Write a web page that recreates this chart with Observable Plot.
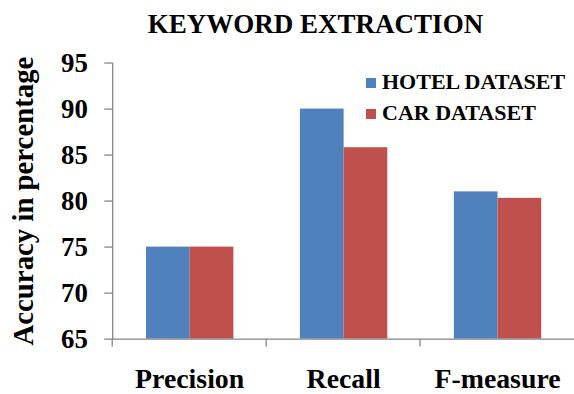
<!DOCTYPE html>
<html><head><meta charset="utf-8">
<script src="https://cdn.jsdelivr.net/npm/d3@7"></script>
<script src="https://cdn.jsdelivr.net/npm/@observablehq/plot@0.6"></script>
<style>
html,body{margin:0;padding:0;background:#fff;overflow:hidden}
#wrap{position:relative;width:574px;height:394px;overflow:hidden;font-family:"Liberation Serif","Times New Roman",serif;font-weight:bold;color:#000}
#title{position:absolute;left:0;width:631px;top:11px;text-align:center;font-size:27px;line-height:27px;white-space:nowrap}
.lg{position:absolute;left:382px;font-size:22px;line-height:22px;white-space:nowrap}
.sw{position:absolute;left:366px;width:10px;height:10px}
#chart{position:absolute;left:0;top:0}
</style></head>
<body>
<div id="wrap">
  <div id="chart"></div>
  <div id="title"></div>
  <div id="legend"></div>
</div>
<script>
const titleText = "KEYWORD EXTRACTION";
const yLabel = "Accuracy in percentage";
const categories = ["Precision", "Recall", "F-measure"];
const series = ["HOTEL DATASET", "CAR DATASET"];
const hotel = [75, 90, 81];
const car = [75, 85.8, 80.3];
const yTicks = [65, 70, 75, 80, 85, 90, 95];
const colors = ["#4F81BD", "#C0504D"];
const axisGray = "#868686";

const data = categories.flatMap((c, i) => [
  {category: c, series: series[0], value: hotel[i]},
  {category: c, series: series[1], value: car[i]}
]);

document.getElementById("title").textContent = titleText;

const legend = document.getElementById("legend");
const legendTops = [71, 102];
series.forEach((s, i) => {
  const sw = document.createElement("span");
  sw.className = "sw";
  sw.style.background = colors[i];
  sw.style.top = (legendTops[i] + 7) + "px";
  legend.appendChild(sw);
  const t = document.createElement("span");
  t.className = "lg";
  t.style.top = legendTops[i] + "px";
  t.textContent = s;
  legend.appendChild(t);
});

const chart = Plot.plot({
  width: 578,
  height: 394,
  marginLeft: 113,
  marginRight: 0,
  marginTop: 63,
  marginBottom: 53,
  style: {fontFamily: "'Liberation Serif', 'Times New Roman', serif", fontWeight: "bold", background: "transparent", color: "#000", overflow: "visible"},
  fx: {domain: categories, padding: 0, axis: null},
  x: {domain: series, paddingInner: 0, paddingOuter: 0.76, axis: null},
  y: {domain: [65, 95], axis: null},
  color: {domain: series, range: colors},
  marks: [
    Plot.barY(data, {fx: "category", x: "series", y1: 65, y2: "value", fill: "series"}),
    Plot.ruleY([65], {stroke: axisGray, strokeWidth: 1.3}),
    Plot.frame({anchor: "left", facetAnchor: "left", stroke: axisGray, strokeWidth: 1.3}),
    Plot.axisY({
      ticks: yTicks, tickSize: 8, tickPadding: 17, stroke: axisGray, strokeWidth: 1.3,
      fill: "#000", fontSize: 27, fontWeight: "bold", label: null
    }),
    Plot.axisY({
      ticks: [], fill: "#000", fontSize: 29, fontWeight: "bold",
      label: yLabel, labelAnchor: "center", labelArrow: "none", labelOffset: 101
    }),
    Plot.axisFx({anchor: "bottom", tickSize: 0, tickPadding: 29, fontSize: 28, fontWeight: "bold", fill: "#000", label: null})
  ]
});
document.getElementById("chart").appendChild(chart);

// category boundary ticks below the x axis, positioned with Plot's own scales
const fx = chart.scale("fx");
const ys = chart.scale("y");
const y0 = ys.apply(65);
const svg = d3.select(chart.tagName.toLowerCase() === "svg" ? chart : chart.querySelector("svg"));
const edges = categories.map(c => fx.apply(c));
const g = svg.append("g").attr("stroke", axisGray).attr("stroke-width", 1.3);
edges.forEach(x => g.append("line").attr("x1", x).attr("x2", x).attr("y1", y0).attr("y2", y0 + 8));
</script>
</body></html>
